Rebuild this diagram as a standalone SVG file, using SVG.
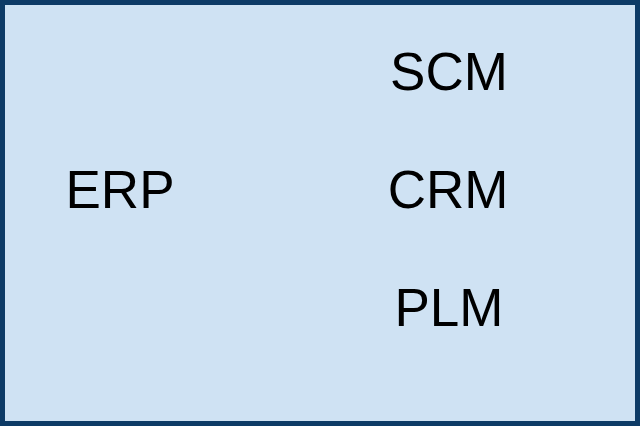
<svg xmlns="http://www.w3.org/2000/svg" width="640" height="427" viewBox="0 0 640 427">
<style>
.box{fill:#cfe2f3;stroke:#0d3b66;stroke-width:5}
.lbl{font-family:"Liberation Sans",Arial,sans-serif;font-size:53px;fill:#000;text-anchor:middle}
</style>
<g id="frame"><rect class="box" x="2.5" y="2.5" width="635" height="421"/></g>
<g id="connectors"></g>
<g id="erp"><text class="lbl" x="120" y="208">ERP</text></g>
<g id="scm"><text class="lbl" x="449" y="90">SCM</text></g>
<g id="crm"><text class="lbl" x="448" y="208">CRM</text></g>
<g id="plm"><text class="lbl" x="449" y="326">PLM</text></g>
</svg>
